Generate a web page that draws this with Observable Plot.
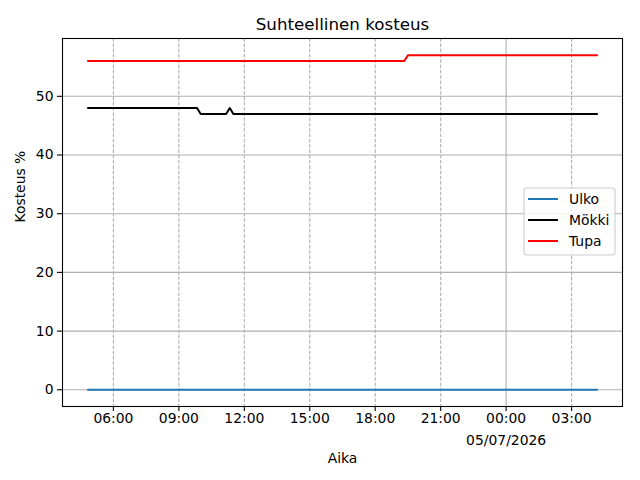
<!DOCTYPE html>
<html><head><meta charset="utf-8">
<script src="https://cdn.jsdelivr.net/npm/d3@7"></script>
<script src="https://cdn.jsdelivr.net/npm/@observablehq/plot@0.6"></script>
<style>body{margin:0;background:#fff}</style>
</head><body><div id="chart"></div>
<script>
const title = "Suhteellinen kosteus";
const xLabel = "Aika";
const yLabel = "Kosteus %";
const seriesNames = ["Ulko", "Mökki", "Tupa"];
const seriesColors = ["#1f77b4", "#000000", "#ff0000"];

const ulkoTimes = ["2026-07-04T04:50", "2026-07-05T04:10"];
const ulkoValues = [0, 0];
const mokkiTimes = ["2026-07-04T04:50", "2026-07-04T09:50", "2026-07-04T10:00", "2026-07-04T11:10", "2026-07-04T11:20", "2026-07-04T11:30", "2026-07-05T04:10"];
const mokkiValues = [48, 48, 47, 47, 48, 47, 47];
const tupaTimes = ["2026-07-04T04:50", "2026-07-04T19:20", "2026-07-04T19:30", "2026-07-05T04:10"];
const tupaValues = [56, 56, 57, 57];

const xTicks = ["2026-07-04T06:00", "2026-07-04T09:00", "2026-07-04T12:00", "2026-07-04T15:00", "2026-07-04T18:00", "2026-07-04T21:00", "2026-07-05T00:00", "2026-07-05T03:00"];
const majorTick = "2026-07-05T00:00";
const dateLabel = "05/07/2026";
const yTicks = [0, 10, 20, 30, 40, 50];

const parse = s => new Date(s + "Z");
const data = [];
[[ulkoTimes, ulkoValues], [mokkiTimes, mokkiValues], [tupaTimes, tupaValues]].forEach(([ts, vs], i) => {
  ts.forEach((t, j) => data.push({series: seriesNames[i], time: parse(t), value: vs[j]}));
});

const tExt = d3.extent(data, d => d.time);
const tPad = (tExt[1] - tExt[0]) * 0.05;
const xDomain = [new Date(+tExt[0] - tPad), new Date(+tExt[1] + tPad)];
const vExt = d3.extent(data, d => d.value);
const vPad = (vExt[1] - vExt[0]) * 0.05;
const yDomain = [vExt[0] - vPad, vExt[1] + vPad];

const minorTicks = xTicks.filter(t => t !== majorTick).map(parse);
const majorTicks = [parse(majorTick)];

const fs = 13.9;
const chart = Plot.plot({
  width: 640, height: 480,
  marginLeft: 62, marginRight: 18, marginTop: 38, marginBottom: 74,
  style: {fontFamily: "'DejaVu Sans', sans-serif", fontSize: fs + "px", background: "#fff", color: "#000"},
  x: {type: "utc", domain: xDomain},
  y: {domain: yDomain},
  color: {domain: seriesNames, range: seriesColors},
  marks: [
    Plot.gridY(yTicks, {stroke: "#b0b0b0", strokeOpacity: 1, strokeWidth: 1.1}),
    Plot.gridX(minorTicks, {stroke: "#b0b0b0", strokeOpacity: 1, strokeWidth: 1.1, strokeDasharray: "3.7,1.6"}),
    Plot.gridX(majorTicks, {stroke: "#b0b0b0", strokeOpacity: 1, strokeWidth: 1.1}),
    Plot.line(data, {x: "time", y: "value", z: "series", stroke: "series", strokeWidth: 2}),
    Plot.frame({stroke: "#000", strokeWidth: 1.1}),
    Plot.axisX(xTicks.map(parse), {tickFormat: d3.utcFormat("%H:%M"), tickSize: 5, tickPadding: 2, fontSize: fs, label: null, strokeWidth: 1.1}),
    Plot.axisY(yTicks, {tickSize: 5, tickPadding: 4, fontSize: fs, label: null, strokeWidth: 1.1}),
    Plot.text([dateLabel], {x: () => parse(majorTick), frameAnchor: "bottom", dy: 38, fontSize: fs}),
    Plot.text([xLabel], {frameAnchor: "bottom", dy: 56, fontSize: fs}),
    Plot.text([yLabel], {frameAnchor: "left", rotate: -90, dx: -42, fontSize: fs}),
    Plot.text([title], {frameAnchor: "top", dy: -20, fontSize: 16.7})
  ]
});
document.getElementById("chart").appendChild(chart);

// legend
const svg = d3.select(chart);
const lg = svg.append("g").attr("transform", "translate(524,188)").attr("text-anchor", "start");
lg.append("rect").attr("width", 91).attr("height", 67).attr("rx", 3)
  .attr("fill", "#fff").attr("fill-opacity", 0.8).attr("stroke", "#cccccc").attr("stroke-width", 1.1);
seriesNames.forEach((name, i) => {
  const y = 11 + i * 21;
  lg.append("line").attr("x1", 4).attr("x2", 34).attr("y1", y).attr("y2", y)
    .attr("stroke", seriesColors[i]).attr("stroke-width", 2);
  lg.append("text").attr("x", 45).attr("y", y).attr("dy", "0.35em").attr("text-anchor", "start")
    .attr("font-size", fs).attr("fill", "#000").text(name);
});
</script>
</body></html>
